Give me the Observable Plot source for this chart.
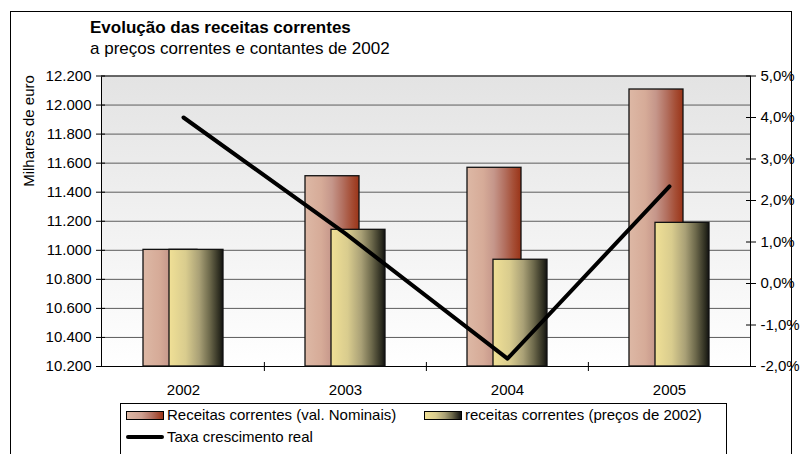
<!DOCTYPE html>
<html><head><meta charset="utf-8">
<script src="https://cdn.jsdelivr.net/npm/d3@7"></script>
<script src="https://cdn.jsdelivr.net/npm/@observablehq/plot@0.6"></script>
<style>
body{margin:0;background:#fff;font-family:"Liberation Sans",Arial,sans-serif;color:#000;}
#wrap{position:relative;width:801px;height:454px;overflow:hidden;}
#border{position:absolute;left:10px;top:11px;width:780px;height:480px;border:1px solid #000;}
.t{position:absolute;white-space:nowrap;line-height:17px;}
#title{left:90px;top:18.6px;font-size:17px;font-weight:bold;}
#subtitle{left:90px;top:39.6px;font-size:17px;}
#ylab{position:absolute;left:27.5px;top:130.5px;transform:translate(-50%,-50%) rotate(-90deg);font-size:15px;white-space:nowrap;}
#chart{position:absolute;left:0;top:60px;}
#legend{position:absolute;left:120px;top:403px;width:605px;height:80px;border:1px solid #000;background:#fff;font-size:15px;}
.row{position:absolute;white-space:nowrap;line-height:15px;}
.sw{display:inline-block;vertical-align:middle;width:36px;height:7px;border:1px solid #000;margin-right:3px;position:relative;top:-1px;}
.lsw{display:inline-block;vertical-align:middle;width:38px;height:4px;background:#000;margin-right:3px;position:relative;top:-1px;border-radius:2px;}
</style>
</head><body>
<div id="wrap">
  <div id="border"></div>
  <div id="title" class="t">Evolução das receitas correntes</div>
  <div id="subtitle" class="t">a preços correntes e contantes de 2002</div>
  <div id="ylab">Milhares de euro</div>
  <div id="chart"></div>
  <div id="legend">
    <div class="row" style="left:5px;top:3px;"><span class="sw" style="background:linear-gradient(to right,#ddb8a5,#cfa191 40%,#b26f5f 70%,#9a3418);"></span>Receitas correntes (val. Nominais)</div>
    <div class="row" style="left:303px;top:3px;"><span class="sw" style="background:linear-gradient(to right,#f0e096,#d9cc8e 30%,#a9a076 55%,#6e6a4c 75%,#111);"></span>receitas correntes (preços de 2002)</div>
    <div class="row" style="left:5px;top:25px;"><span class="lsw"></span>Taxa crescimento real</div>
  </div>
</div>
<script>
const years = ["2002", "2003", "2004", "2005"];
const nominal = [11003, 11510, 11568, 12107];
const real = [11003, 11141, 10935, 11189];
const growth = [4.0, 1.2, -1.81, 2.34];
const leftTicks = [10200, 10400, 10600, 10800, 11000, 11200, 11400, 11600, 11800, 12000, 12200];
const rightTicks = [-2, -1, 0, 1, 2, 3, 4, 5];

const loc = d3.formatLocale({decimal: ",", thousands: ".", grouping: [3], currency: ["", " €"], minus: "-"});
const fmtThousands = loc.format(",d");
const fmtPct = v => loc.format(".1f")(v) + "%";
const pctToY = d3.scaleLinear().domain([-2, 5]).range([10200, 12200]);

const table = years.map((y, i) => ({year: y, nominal: nominal[i], real: real[i], growth: growth[i]}));

const chart = Plot.plot({
  width: 801, height: 345,
  marginTop: 15.5, marginBottom: 39, marginLeft: 101, marginRight: 51,
  style: {fontFamily: "'Liberation Sans', Arial, sans-serif", fontSize: "15px", color: "#000", background: "transparent", overflow: "visible"},
  x: {type: "band", domain: years, padding: 0, label: null},
  y: {domain: [10200, 12200], label: null},
  marks: [
    Plot.frame({fill: "url(#bgGrad)", stroke: null}),
    Plot.ruleY(leftTicks, {stroke: "#5c5c5c", strokeWidth: 1}),
    Plot.frame({stroke: "#000", strokeWidth: 1}),
    Plot.ruleY([12200], {stroke: "#7a7a7a", strokeWidth: 1}),
    Plot.barY(table, {x: "year", y1: 10200, y2: "nominal", fill: "url(#gradNom)", stroke: "#111", strokeWidth: 1.3, insetLeft: 41, insetRight: 67}),
    Plot.barY(table, {x: "year", y1: 10200, y2: "real", fill: "url(#gradReal)", stroke: "#111", strokeWidth: 1.3, insetLeft: 67, insetRight: 41}),
    Plot.line(table, {x: "year", y: d => pctToY(d.growth), stroke: "#000", strokeWidth: 4}),
    Plot.axisY({anchor: "left", ticks: leftTicks, tickFormat: fmtThousands, tickSize: 9, dx: 4, tickPadding: 5, label: null}),
    Plot.axisY({anchor: "right", ticks: rightTicks.map(p => pctToY(p)), tickFormat: v => fmtPct(pctToY.invert(v)), tickSize: 10, dx: -5, tickPadding: 5, label: null}),
    Plot.axisX({anchor: "bottom", tickSize: 0, tickPadding: 18, label: null}),
    Plot.axisX({anchor: "bottom", ticks: years.slice(1), tickFormat: () => "", tickSize: 9, dy: -4, dx: -81.125, label: null})
  ]
});

const svg = d3.select(chart);
const defs = svg.insert("defs", ":first-child");
function grad(id, stops, vertical) {
  const g = defs.append("linearGradient").attr("id", id)
    .attr("x1", 0).attr("y1", 0).attr("x2", vertical ? 0 : 1).attr("y2", vertical ? 1 : 0);
  stops.forEach(([o, c]) => g.append("stop").attr("offset", o).attr("stop-color", c));
}
grad("bgGrad", [[0, "#e3e3e3"], [1, "#ffffff"]], true);
grad("gradNom", [[0, "#ddb8a5"], [0.3, "#d6ab98"], [0.5, "#c5968a"], [0.7, "#b26f5f"], [0.85, "#a65038"], [1, "#9a3418"]], false);
grad("gradReal", [[0, "#f0e096"], [0.31, "#d9cc8e"], [0.56, "#a9a076"], [0.75, "#6e6a4c"], [0.94, "#2a2a1e"], [1, "#111"]], false);

document.getElementById("chart").appendChild(chart);
</script>
</body></html>
